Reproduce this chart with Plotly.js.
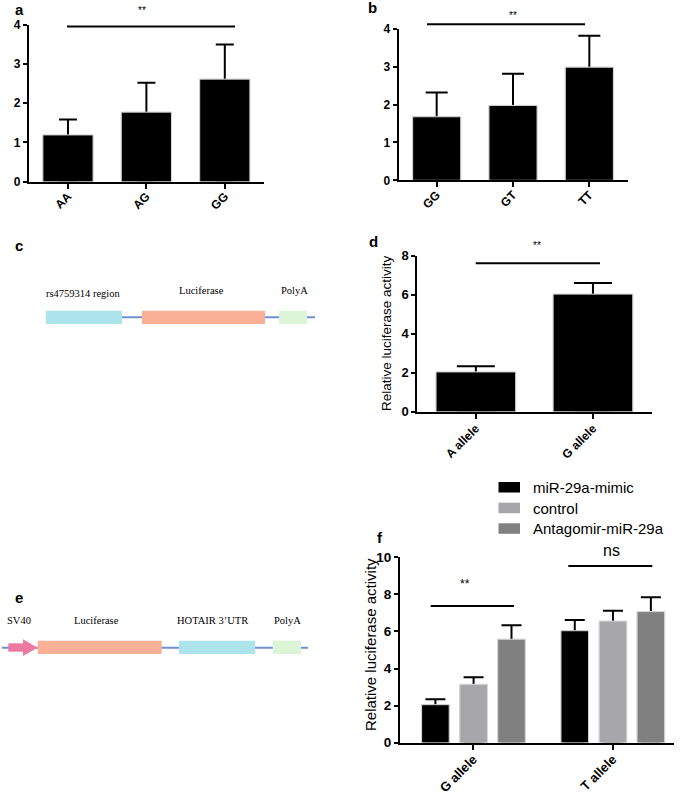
<!DOCTYPE html>
<html><head><meta charset="utf-8">
<script src="https://cdn.plot.ly/plotly-3.0.1.min.js"></script>
<style>html,body{margin:0;padding:0;background:#fff}</style>
</head><body><div id="chart" style="width:685px;height:794px"></div>
<script>
// ---------- data ----------
const catsA = ['AA', 'AG', 'GG'];
const valsA = [1.19, 1.77, 2.61];
const errA  = [0.39, 0.75, 0.88];

const catsB = ['GG', 'GT', 'TT'];
const valsB = [1.68, 1.98, 2.99];
const errB  = [0.64, 0.84, 0.83];

const catsD = ['A allele', 'G allele'];
const valsD = [2.04, 6.03];
const errD  = [0.29, 0.57];

const catsF = ['G allele', 'T allele'];
const seriesF = ['miR-29a-mimic', 'control', 'Antagomir-miR-29a'];
const mimicF = [2.05, 6.04];
const mimicErrF = [0.29, 0.58];
const controlF = [3.15, 6.56];
const controlErrF = [0.38, 0.56];
const antagoF = [5.58, 7.07];
const antagoErrF = [0.75, 0.77];

// ---------- helpers ----------
const W = 685, H = 794;
const px = x => x / W, py = y => 1 - y / H;
const SANS = 'Liberation Sans, Arial, sans-serif';
const SERIF = 'Liberation Serif, Times New Roman, serif';

function bars(cats, vals, errs, xa, ya, color, width, capw, offset) {
  const base = {
    type: 'bar', x: cats, y: vals, xaxis: xa, yaxis: ya, width: width,
    marker: {color: color, line: {color: '#d9d9d9', width: 1}},
    hoverinfo: 'skip', showlegend: false
  };
  if (offset !== undefined) base.offset = offset;
  const withErr = Object.assign({}, base, {
    error_y: {type: 'data', symmetric: false, array: errs, arrayminus: vals,
              color: '#000', thickness: 2, width: capw}
  });
  return [withErr, Object.assign({}, base)];
}
function xax(x0, x1, yId, range, fs, standoff) {
  return {domain: [px(x0), px(x1)], anchor: yId, type: 'category', range: range,
    showline: true, linewidth: 2, linecolor: '#000', ticks: 'outside', ticklen: 5,
    tickwidth: 2, tickcolor: '#000', tickangle: -45, ticklabelstandoff: standoff,
    tickfont: {family: SANS, size: fs, color: '#000', weight: 'bold'},
    showgrid: false, zeroline: false, fixedrange: true};
}
function yax(yBottom, yTop, xId, range, dtick, fs) {
  return {domain: [py(yBottom), py(yTop)], anchor: xId, range: range, dtick: dtick, tick0: 0,
    showline: true, linewidth: 2, linecolor: '#000', ticks: 'outside', ticklen: 4,
    tickwidth: 2, tickcolor: '#000',
    tickfont: {family: SANS, size: fs, color: '#000', weight: 'bold'},
    showgrid: false, zeroline: false, fixedrange: true};
}
function hline(x0, x1, y) {
  return {type: 'line', xref: 'paper', yref: 'paper', x0: px(x0), x1: px(x1), y0: py(y), y1: py(y),
          line: {color: '#000', width: 2}};
}
function rect(x0, y0, x1, y1, fill) {
  return {type: 'rect', xref: 'paper', yref: 'paper', x0: px(x0), x1: px(x1), y0: py(y1), y1: py(y0),
          fillcolor: fill, line: {width: 0}};
}
function txt(x, y, s, size, opts) {
  return Object.assign({xref: 'paper', yref: 'paper', x: px(x), y: py(y), text: s, showarrow: false,
    xanchor: 'center', yanchor: 'middle', font: {family: SANS, size: size, color: '#000'}}, opts || {});
}

// ---------- traces ----------
let data = [];
data = data.concat(bars(catsA, valsA, errA, 'x', 'y', '#000', 0.64, 9));
data = data.concat(bars(catsB, valsB, errB, 'x2', 'y2', '#000', 0.63, 11));
data = data.concat(bars(catsD, valsD, errD, 'x3', 'y3', '#000', 0.68, 19));
const fColors = ['#000000', '#a7a7ab', '#808080'];
const fVals = [mimicF, controlF, antagoF];
const fErrs = [mimicErrF, controlErrF, antagoErrF];
const fOffsets = [-0.371, -0.097, 0.175];
for (let i = 0; i < 3; i++) {
  const tr = bars(catsF, fVals[i], fErrs[i], 'x4', 'y4', fColors[i], 0.198, 10, fOffsets[i]);
  tr.forEach(t => t.name = seriesF[i]);
  data = data.concat(tr);
}

// ---------- layout ----------
const shapes = [
  hline(67, 235, 26.5),
  hline(427, 585, 24.3),
  hline(475.7, 600, 263.3),
  hline(430.7, 514, 606),
  hline(568.3, 652.3, 566),
  // diagram c
  {type: 'line', xref: 'paper', yref: 'paper', x0: px(45.7), x1: px(315), y0: py(317.3), y1: py(317.3),
   line: {color: '#6f8fd4', width: 2}},
  rect(46, 310.7, 122, 324, '#ade4ec'),
  rect(142, 310.7, 265, 324, '#f9b097'),
  rect(279, 310.7, 307, 324, '#dcf5d6'),
  // diagram e
  {type: 'line', xref: 'paper', yref: 'paper', x0: px(2), x1: px(308), y0: py(647.7), y1: py(647.7),
   line: {color: '#6f8fd4', width: 2}},
  rect(8.3, 643.3, 23.5, 651.7, '#ec7aa0'),
  {type: 'path', xref: 'paper', yref: 'paper', fillcolor: '#ec7aa0', line: {width: 0},
   path: 'M' + px(23) + ',' + py(639.3) + ' L' + px(37.7) + ',' + py(647.7) + ' L' + px(23) + ',' + py(656) + ' Z'},
  rect(37.7, 640.7, 161.7, 654, '#f9b097'),
  rect(179, 640.7, 255, 654, '#ade4ec'),
  rect(272.7, 640.7, 301, 654, '#dcf5d6'),
  // legend f
  rect(498.5, 482, 520, 492.5, '#000000'),
  rect(498.5, 502.7, 520, 513.2, '#a7a7ab'),
  rect(498.5, 523.3, 520, 533.8, '#808080')
];

const bold = {family: SANS, size: 15, color: '#000', weight: 'bold'};
const star = s => ({family: SANS, size: s, color: '#000'});
const serifFont = {family: SERIF, size: 10.5, color: '#000'};
const annotations = [
  txt(19, 9, 'a', 15, {font: bold}),
  txt(372, 8, 'b', 15, {font: bold}),
  txt(19, 245, 'c', 15, {font: bold}),
  txt(373, 241, 'd', 15, {font: bold}),
  txt(19, 597, 'e', 15, {font: bold}),
  txt(380, 537, 'f', 15, {font: bold}),
  txt(142, 11, '**', 10, {font: star(10)}),
  txt(513, 16, '**', 10, {font: star(10)}),
  txt(536.7, 246, '**', 10, {font: star(10)}),
  txt(465, 584, '**', 12, {font: star(12)}),
  txt(611.7, 550, 'ns', 16),
  txt(386.7, 333.3, 'Relative luciferase activity', 13.5, {textangle: -90}),
  txt(370, 645, 'Relative luciferase activity', 15, {textangle: -90}),
  // legend text
  txt(530.7, 487.3, seriesF[0], 15, {xanchor: 'left'}),
  txt(530.7, 508, seriesF[1], 15, {xanchor: 'left'}),
  txt(530.7, 528.6, seriesF[2], 15, {xanchor: 'left'}),
  // diagram texts
  txt(83, 293, 'rs4759314 region', 10.5, {font: serifFont}),
  txt(201, 290.7, 'Luciferase', 10.5, {font: serifFont}),
  txt(294, 290.7, 'PolyA', 10.5, {font: serifFont}),
  txt(19, 620.7, 'SV40', 10.5, {font: serifFont}),
  txt(96.7, 620.7, 'Luciferase', 10.5, {font: serifFont}),
  txt(213, 620.7, 'HOTAIR 3\u2019UTR', 10.5, {font: serifFont}),
  txt(287, 620.7, 'PolyA', 10.5, {font: serifFont})
];

const layout = {
  width: W, height: H, margin: {l: 0, r: 0, t: 0, b: 0},
  paper_bgcolor: '#fff', plot_bgcolor: 'rgba(0,0,0,0)',
  barmode: 'overlay', showlegend: false,
  xaxis: xax(28.75, 264, 'y', [-0.5, 2.5], 12, -4),
  yaxis: yax(181.7, 24.5, 'x', [0, 4], 1, 12),
  xaxis2: xax(398.5, 627.5, 'y2', [-0.5, 2.5], 12, -4),
  yaxis2: yax(180.3, 29, 'x2', [0, 4], 1, 12),
  xaxis3: xax(417.3, 651.5, 'y3', [-0.5, 1.5], 12, -2),
  yaxis3: yax(411.7, 255.7, 'x3', [0, 8], 2, 13),
  xaxis4: xax(400, 674, 'y4', [-0.526, 1.44], 13, -3),
  yaxis4: yax(742.7, 557.3, 'x4', [0, 10], 2, 13.5),
  shapes: shapes,
  annotations: annotations
};

Plotly.newPlot('chart', data, layout, {displayModeBar: false, staticPlot: true});
</script>
</body></html>
